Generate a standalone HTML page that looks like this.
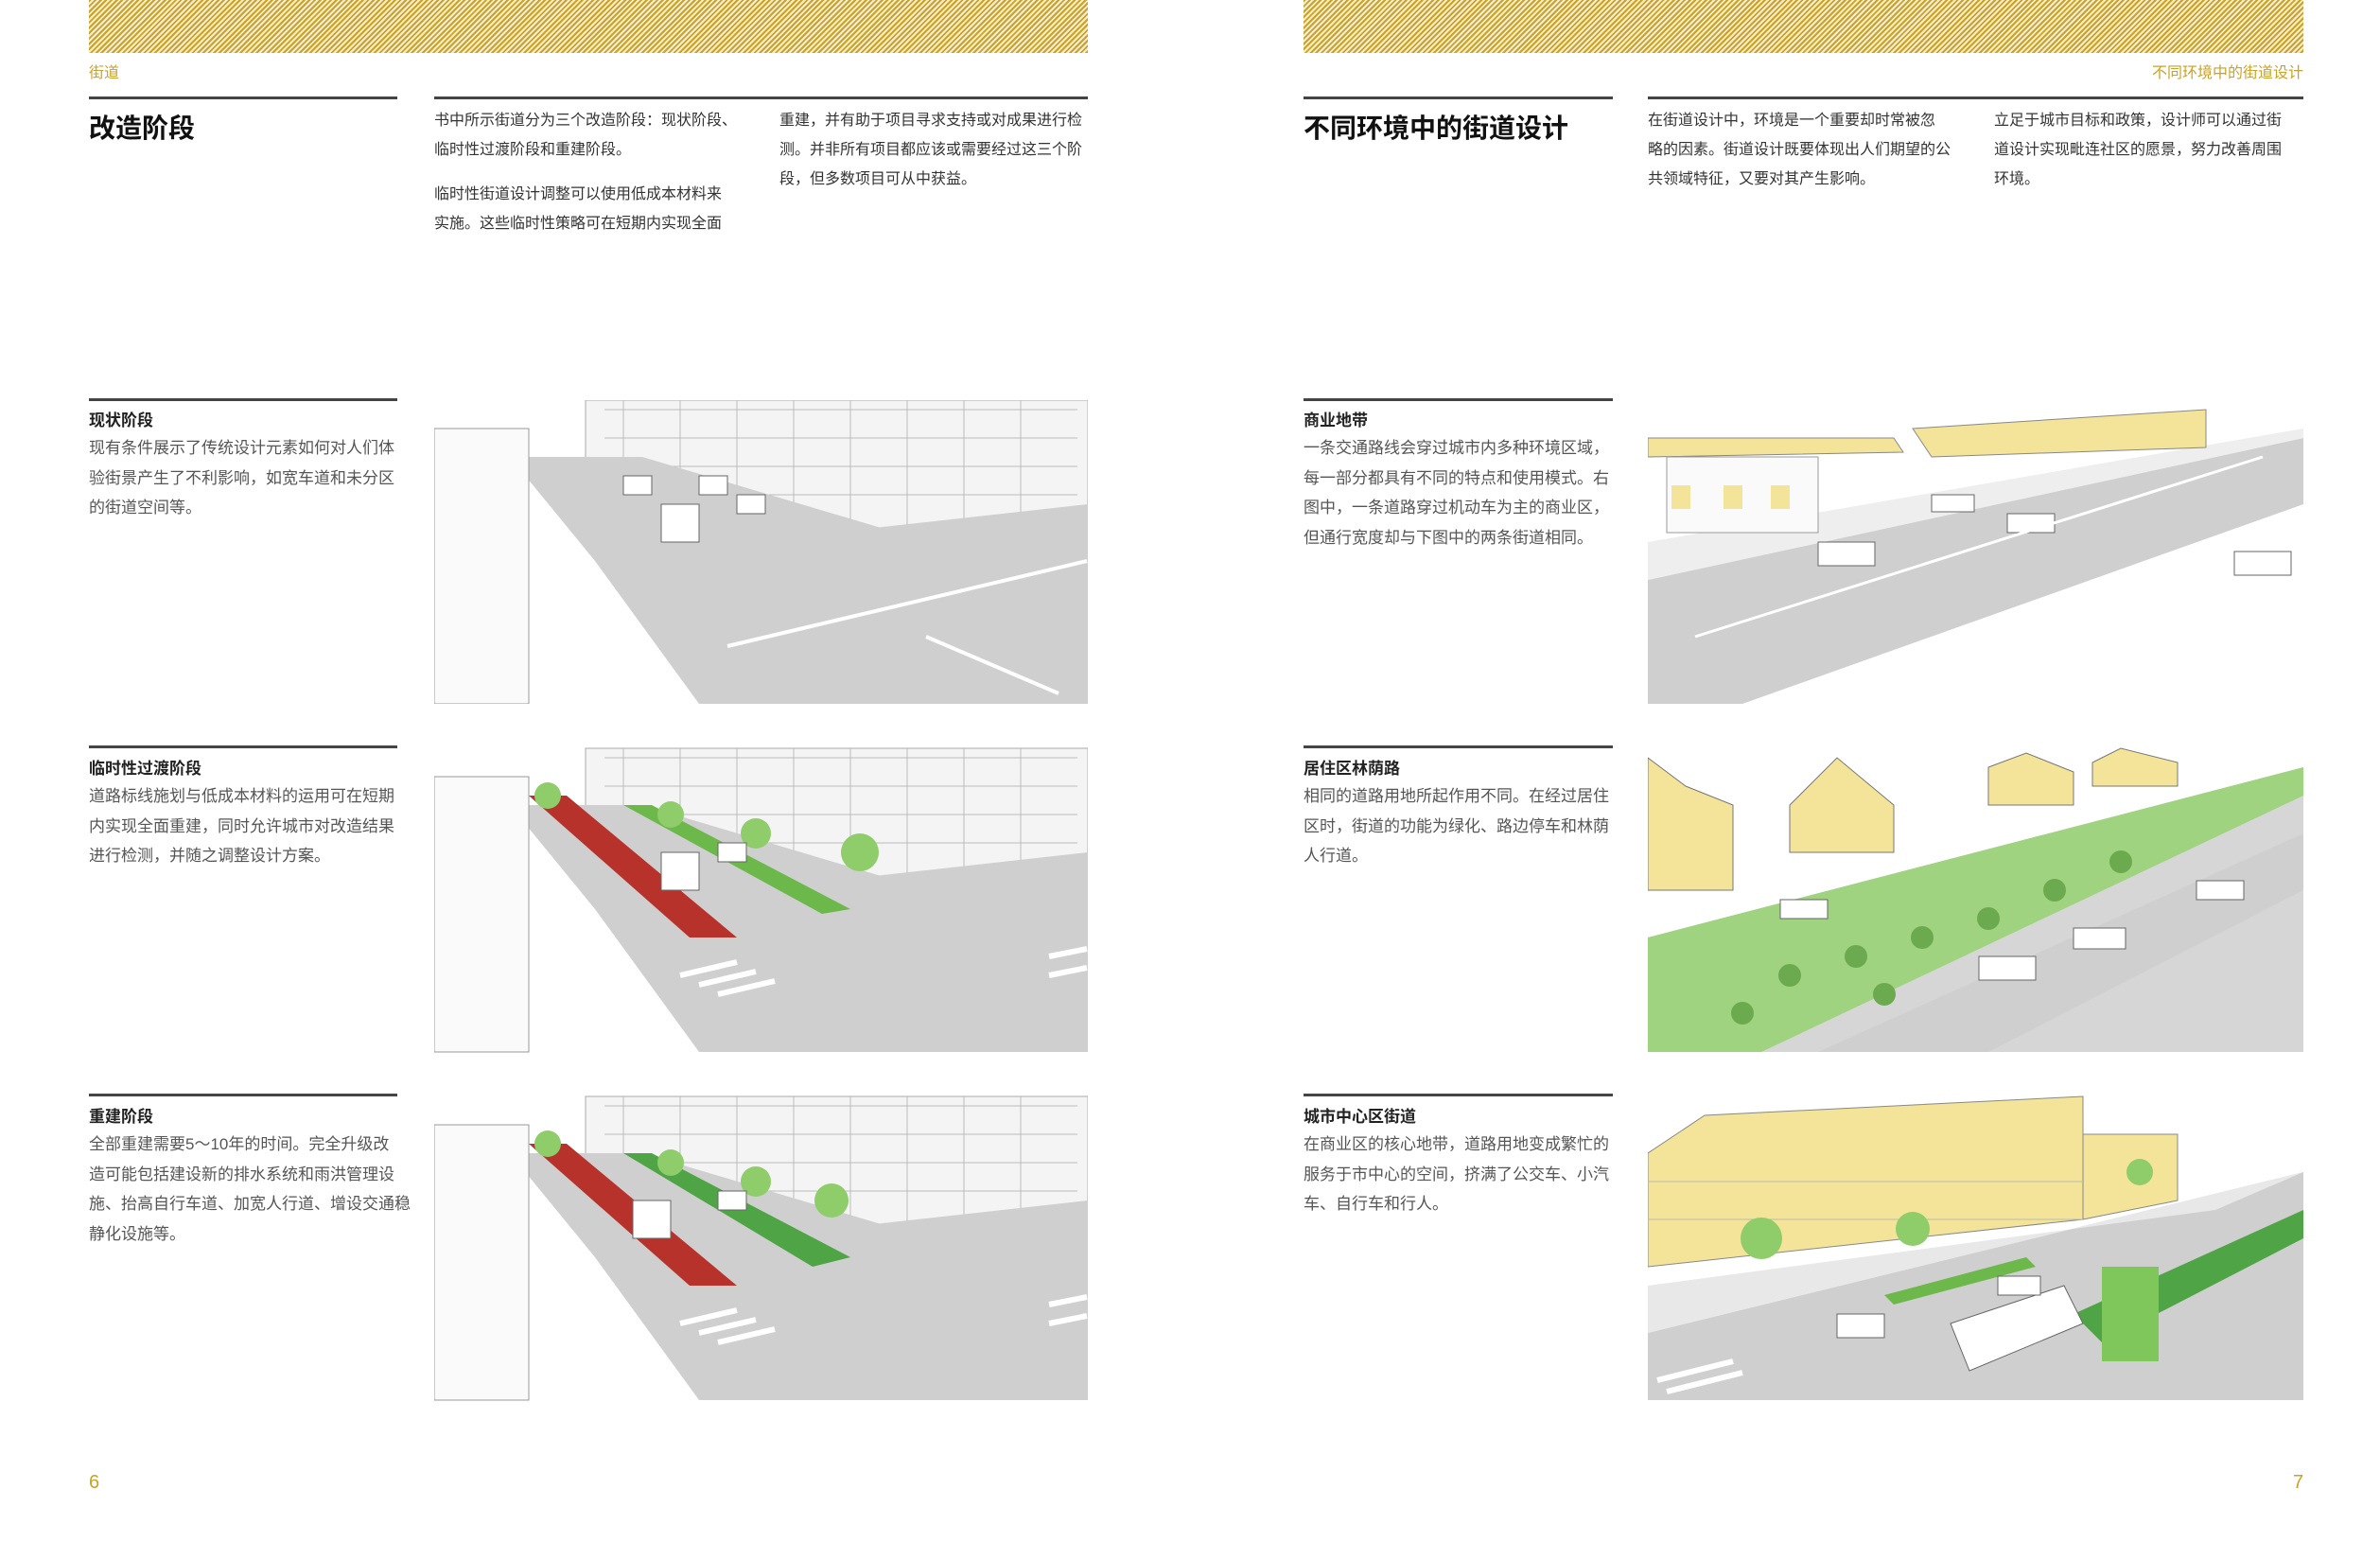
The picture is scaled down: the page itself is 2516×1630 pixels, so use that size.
<!DOCTYPE html>
<html><head><meta charset="utf-8"><style>
*{margin:0;padding:0;box-sizing:border-box}
body{width:2516px;height:1630px;background:#fff;position:relative;overflow:hidden;font-family:"Liberation Sans","Noto Sans CJK SC",sans-serif;color:#222}
.stripe{position:absolute;top:0;height:56px;background:repeating-linear-gradient(135deg,#c9a227 0 2px,#f7eed0 2px 4px)}
.abs{position:absolute;white-space:nowrap}
.rule{position:absolute;height:3px;background:#444}
.gold{color:#c9a227;font-size:16px}
.title{font-size:28px;font-weight:bold;color:#111}
.body{font-size:16px;line-height:31px;color:#333}
.lab{font-size:17px;font-weight:bold;color:#222}
.sec{font-size:17px;line-height:31.5px;color:#555}
.pn{font-size:20px;color:#c9a227}
svg{position:absolute}
</style></head><body>
<div class="stripe" style="left:94px;width:1056px"></div>
<div class="stripe" style="left:1378px;width:1057px"></div>
<div class="abs gold" style="left:94px;top:63px">街道</div>
<div class="abs gold" style="right:81px;top:63px">不同环境中的街道设计</div>

<div class="rule" style="left:94px;top:102px;width:326px"></div>
<div class="rule" style="left:459px;top:102px;width:691px"></div>
<div class="rule" style="left:1378px;top:102px;width:327px"></div>
<div class="rule" style="left:1742px;top:102px;width:693px"></div>

<div class="abs title" style="left:94px;top:114px">改造阶段</div>
<div class="abs title" style="left:1378px;top:114px">不同环境中的街道设计</div>

<div class="abs body" style="left:459px;top:112px">书中所示街道分为三个改造阶段：现状阶段、<br>临时性过渡阶段和重建阶段。</div>
<div class="abs body" style="left:459px;top:190px">临时性街道设计调整可以使用低成本材料来<br>实施。这些临时性策略可在短期内实现全面</div>
<div class="abs body" style="left:824px;top:112px">重建，并有助于项目寻求支持或对成果进行检<br>测。并非所有项目都应该或需要经过这三个阶<br>段，但多数项目可从中获益。</div>
<div class="abs body" style="left:1742px;top:112px">在街道设计中，环境是一个重要却时常被忽<br>略的因素。街道设计既要体现出人们期望的公<br>共领域特征，又要对其产生影响。</div>
<div class="abs body" style="left:2108px;top:112px">立足于城市目标和政策，设计师可以通过街<br>道设计实现毗连社区的愿景，努力改善周围<br>环境。</div>

<div class="rule" style="left:94px;top:421px;width:326px"></div>
<div class="rule" style="left:94px;top:788px;width:326px"></div>
<div class="rule" style="left:94px;top:1156px;width:326px"></div>
<div class="rule" style="left:1378px;top:421px;width:327px"></div>
<div class="rule" style="left:1378px;top:788px;width:327px"></div>
<div class="rule" style="left:1378px;top:1156px;width:327px"></div>

<div class="abs lab" style="left:94px;top:430px">现状阶段</div>
<div class="abs sec" style="left:94px;top:458px">现有条件展示了传统设计元素如何对人们体<br>验街景产生了不利影响，如宽车道和未分区<br>的街道空间等。</div>
<div class="abs lab" style="left:94px;top:798px">临时性过渡阶段</div>
<div class="abs sec" style="left:94px;top:826px">道路标线施划与低成本材料的运用可在短期<br>内实现全面重建，同时允许城市对改造结果<br>进行检测，并随之调整设计方案。</div>
<div class="abs lab" style="left:94px;top:1166px">重建阶段</div>
<div class="abs sec" style="left:94px;top:1194px">全部重建需要5～10年的时间。完全升级改<br>造可能包括建设新的排水系统和雨洪管理设<br>施、抬高自行车道、加宽人行道、增设交通稳<br>静化设施等。</div>

<div class="abs lab" style="left:1378px;top:430px">商业地带</div>
<div class="abs sec" style="left:1378px;top:458px">一条交通路线会穿过城市内多种环境区域，<br>每一部分都具有不同的特点和使用模式。右<br>图中，一条道路穿过机动车为主的商业区，<br>但通行宽度却与下图中的两条街道相同。</div>
<div class="abs lab" style="left:1378px;top:798px">居住区林荫路</div>
<div class="abs sec" style="left:1378px;top:826px">相同的道路用地所起作用不同。在经过居住<br>区时，街道的功能为绿化、路边停车和林荫<br>人行道。</div>
<div class="abs lab" style="left:1378px;top:1166px">城市中心区街道</div>
<div class="abs sec" style="left:1378px;top:1194px">在商业区的核心地带，道路用地变成繁忙的<br>服务于市中心的空间，挤满了公交车、小汽<br>车、自行车和行人。</div>

<!-- left images -->
<svg style="left:459px;top:423px" width="691" height="321" viewBox="0 0 691 321">
<rect width="691" height="321" fill="#fff"/>
<rect x="160" y="0" width="531" height="150" fill="#f4f4f4" stroke="#aaa"/>
<g stroke="#bbb" fill="none"><path d="M180 10h500M180 40h500M180 70h500M180 100h500"/><path d="M200 0v150M260 0v150M320 0v150M380 0v150M440 0v150M500 0v150M560 0v150M620 0v150"/></g>
<polygon points="80,60 220,60 691,200 691,321 280,321 170,170" fill="#cfcfcf"/>
<polygon points="330,150 691,110 691,200 450,200" fill="#cfcfcf"/>
<rect x="0" y="30" width="100" height="291" fill="#fafafa" stroke="#999"/>
<g stroke="#fff" stroke-width="4"><path d="M310 260l380-90M520 250l140 60M140 300l40 21"/></g>
<g fill="#fff" stroke="#666"><rect x="240" y="110" width="40" height="40"/><rect x="200" y="80" width="30" height="20"/><rect x="280" y="80" width="30" height="20"/><rect x="320" y="100" width="30" height="20"/></g>
</svg>
<svg style="left:459px;top:790px" width="691" height="323" viewBox="0 0 691 321">
<rect width="691" height="321" fill="#fff"/>
<rect x="160" y="0" width="531" height="150" fill="#f4f4f4" stroke="#aaa"/>
<g stroke="#bbb" fill="none"><path d="M180 10h500M180 40h500M180 70h500M180 100h500"/><path d="M200 0v150M260 0v150M320 0v150M380 0v150M440 0v150M500 0v150M560 0v150M620 0v150"/></g>
<polygon points="80,60 220,60 691,200 691,321 280,321 170,170" fill="#cfcfcf"/>
<polygon points="330,150 691,110 691,200 450,200" fill="#cfcfcf"/>
<polygon points="100,50 140,50 320,200 270,200" fill="#b8322c"/>
<polygon points="200,60 230,60 440,170 410,175" fill="#6cb84a"/>
<g fill="#8fcc6a"><circle cx="120" cy="50" r="14"/><circle cx="250" cy="70" r="14"/><circle cx="340" cy="90" r="16"/><circle cx="450" cy="110" r="20"/></g>
<rect x="0" y="30" width="100" height="291" fill="#fafafa" stroke="#999"/>
<g stroke="#fff" stroke-width="6"><path d="M260 240l60-14M280 250l60-14M300 260l60-14M650 220l40-8M650 240l40-8"/></g>
<g fill="#fff" stroke="#666"><rect x="240" y="110" width="40" height="40"/><rect x="300" y="100" width="30" height="20"/></g>
</svg>
<svg style="left:459px;top:1158px" width="691" height="323" viewBox="0 0 691 321">
<rect width="691" height="321" fill="#fff"/>
<rect x="160" y="0" width="531" height="150" fill="#f4f4f4" stroke="#aaa"/>
<g stroke="#bbb" fill="none"><path d="M180 10h500M180 40h500M180 70h500M180 100h500"/><path d="M200 0v150M260 0v150M320 0v150M380 0v150M440 0v150M500 0v150M560 0v150M620 0v150"/></g>
<polygon points="80,60 220,60 691,200 691,321 280,321 170,170" fill="#cfcfcf"/>
<polygon points="330,150 691,110 691,200 450,200" fill="#cfcfcf"/>
<polygon points="100,50 140,50 320,200 270,200" fill="#b8322c"/>
<polygon points="200,60 230,60 440,170 400,180" fill="#4fa545"/>
<g fill="#8fcc6a"><circle cx="120" cy="50" r="14"/><circle cx="250" cy="70" r="14"/><circle cx="340" cy="90" r="16"/><circle cx="420" cy="110" r="18"/></g>
<rect x="0" y="30" width="100" height="291" fill="#fafafa" stroke="#999"/>
<g stroke="#fff" stroke-width="6"><path d="M260 240l60-14M280 250l60-14M300 260l60-14M650 220l40-8M650 240l40-8"/></g>
<g fill="#fff" stroke="#666"><rect x="210" y="110" width="40" height="40"/><rect x="300" y="100" width="30" height="20"/></g>
</svg>

<!-- right images -->
<svg style="left:1742px;top:423px" width="693" height="321" viewBox="0 0 693 321">
<rect width="693" height="321" fill="#fff"/>
<polygon points="0,190 693,40 693,110 100,321 0,321" fill="#cfcfcf"/>
<polygon points="0,150 693,30 693,40 0,190" fill="#eee"/>
<polygon points="280,30 590,10 590,50 300,60" fill="#f3e49a" stroke="#888"/>
<polygon points="0,40 260,40 270,55 0,60" fill="#f3e49a" stroke="#888"/>
<rect x="20" y="60" width="160" height="80" fill="#fafafa" stroke="#999"/>
<g fill="#f3e49a"><rect x="25" y="90" width="20" height="25"/><rect x="80" y="90" width="20" height="25"/><rect x="130" y="90" width="20" height="25"/></g>
<g fill="#fff" stroke="#666"><rect x="180" y="150" width="60" height="25"/><rect x="380" y="120" width="50" height="20"/><rect x="300" y="100" width="45" height="18"/><rect x="620" y="160" width="60" height="25"/></g>
<g stroke="#fff" stroke-width="3"><path d="M50 250l600-190"/></g>
</svg>
<svg style="left:1742px;top:790px" width="693" height="323" viewBox="0 0 693 321">
<rect width="693" height="321" fill="#fff"/>
<polygon points="0,200 693,20 693,321 0,321" fill="#d6d6d6"/>
<polygon points="0,200 693,20 693,50 120,321 0,321" fill="#9fd37f"/>
<polygon points="180,321 693,90 693,150 360,321" fill="#cfcfcf"/>
<g fill="#f3e49a" stroke="#777"><polygon points="0,10 40,40 90,60 90,150 0,150"/><polygon points="150,60 200,10 260,60 260,110 150,110"/><polygon points="360,20 400,5 450,25 450,60 360,60"/><polygon points="470,15 500,0 560,15 560,40 470,40"/></g>
<g fill="#6caa4f"><circle cx="150" cy="240" r="12"/><circle cx="220" cy="220" r="12"/><circle cx="290" cy="200" r="12"/><circle cx="360" cy="180" r="12"/><circle cx="430" cy="150" r="12"/><circle cx="500" cy="120" r="12"/><circle cx="100" cy="280" r="12"/><circle cx="250" cy="260" r="12"/></g>
<g fill="#fff" stroke="#666"><rect x="350" y="220" width="60" height="25"/><rect x="450" y="190" width="55" height="22"/><rect x="580" y="140" width="50" height="20"/><rect x="140" y="160" width="50" height="20"/></g>
</svg>
<svg style="left:1742px;top:1158px" width="693" height="323" viewBox="0 0 693 321">
<rect width="693" height="321" fill="#fff"/>
<polygon points="0,60 60,20 460,0 460,130 0,180" fill="#f3e49a" stroke="#888"/>
<polygon points="460,40 560,40 560,110 460,130" fill="#f3e49a" stroke="#888"/>
<g stroke="#bba" fill="none"><path d="M0 90h460M0 130h460"/></g>
<polygon points="0,250 693,80 693,321 0,321" fill="#cfcfcf"/>
<polygon points="0,200 600,120 693,80 0,250" fill="#e8e8e8"/>
<polygon points="450,230 693,120 693,150 480,260" fill="#4fa545"/>
<polygon points="250,210 400,170 410,180 260,220" fill="#6cb84a"/>
<rect x="480" y="180" width="60" height="100" fill="#7fc75a"/>
<g fill="#8fcc6a"><circle cx="120" cy="150" r="22"/><circle cx="280" cy="140" r="18"/><circle cx="520" cy="80" r="14"/></g>
<g fill="#fff" stroke="#666"><polygon points="320,240 440,200 460,240 340,290"/><rect x="200" y="230" width="50" height="25"/><rect x="370" y="190" width="45" height="20"/></g>
<g stroke="#fff" stroke-width="6"><path d="M10 300l80-20M20 312l80-20"/></g>
</svg>

<div class="abs pn" style="left:94px;top:1556px">6</div>
<div class="abs pn" style="left:2424px;top:1556px">7</div>
</body></html>
